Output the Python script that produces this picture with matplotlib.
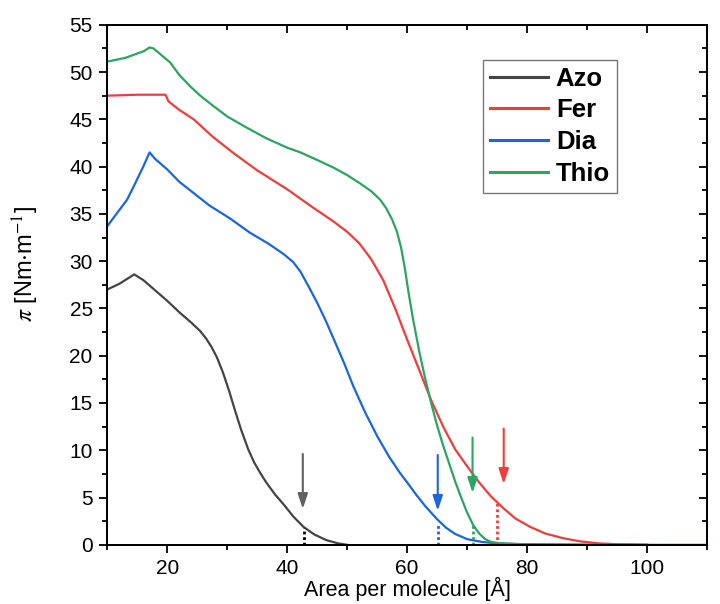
import matplotlib
matplotlib.use("Agg")
import matplotlib.pyplot as plt
from matplotlib.ticker import MultipleLocator

plt.rcParams['font.family'] = ['Liberation Sans', 'DejaVu Sans']
plt.rcParams['mathtext.fontset'] = 'stix'

# Isothermen (Fläche pro Molekül vs. Oberflächendruck)
azo_x = [10, 12, 14.5, 16, 18, 20, 22, 24, 25.5, 26.5, 27.4, 28.3, 29.3, 30.3, 31.3, 32.3, 33.5, 34.5,
         35.5, 36.5, 38, 39.5, 41, 42.7, 44.5, 46.5, 48.5, 50]
azo_y = [27.0, 27.6, 28.6, 28.0, 26.9, 25.8, 24.6, 23.5, 22.6, 21.8, 20.9, 19.8, 18.2, 16.3, 14.2,
         12.2, 10.1, 8.7, 7.6, 6.6, 5.3, 4.2, 3.0, 1.9, 1.1, 0.5, 0.15, 0.0]

fer_x = [10, 15, 19.7, 20.2, 22, 24.4, 27.5, 31, 35, 40, 44, 47.7, 50, 52, 54, 56, 58, 60, 62, 64,
         66, 68, 70, 72, 74, 76, 78, 80.5, 83, 86, 89, 92, 95, 100, 110]
fer_y = [47.5, 47.6, 47.6, 46.9, 46.0, 45.0, 43.2, 41.45, 39.6, 37.6, 35.8, 34.2, 33.1, 31.9, 30.2,
         28.0, 25.0, 21.7, 18.5, 15.3, 12.5, 10.1, 8.3, 6.6, 5.1, 3.9, 2.8, 1.9, 1.2, 0.7, 0.35, 0.15,
         0.06, 0.0, 0.0]

dia_x = [10, 12, 13.3, 14.4, 16, 17.05, 18, 20, 22, 24.4, 27, 30.5, 33.8, 37, 39.5, 41, 42.2, 43.5,
         45, 46.5, 48, 49.5, 51, 53, 55, 57, 58.8, 60, 61.5, 63, 65, 66.5, 68, 70, 72.5, 75, 80, 90, 100]
dia_y = [33.7, 35.4, 36.5, 37.9, 40.0, 41.5, 40.8, 39.7, 38.4, 37.2, 35.9, 34.5, 33.0, 31.8, 30.7,
         29.9, 28.9, 27.4, 25.6, 23.6, 21.4, 19.2, 16.8, 14.0, 11.5, 9.3, 7.6, 6.6, 5.3, 4.1, 2.7,
         1.8, 1.15, 0.6, 0.3, 0.15, 0.05, 0.01, 0.0]

thio_x = [10, 13, 16.05, 17.05, 17.7, 20.5, 22, 23.8, 25.5, 27.7, 30, 33.3, 36.5, 40, 42.2, 45,
          47.7, 50, 52.2, 54, 55.5, 56.5, 57.5, 58.3, 59, 59.6, 60.2, 61, 62, 63, 64, 65, 66, 67,
          68, 69, 70, 71, 72, 73, 74, 75.5, 80, 90, 100]
thio_y = [51.1, 51.5, 52.2, 52.6, 52.5, 51.0, 49.7, 48.5, 47.5, 46.4, 45.3, 44.1, 43.0, 42.0, 41.5,
          40.7, 39.9, 39.1, 38.2, 37.4, 36.5, 35.6, 34.4, 33.1, 31.4, 29.3, 26.8, 23.8, 20.5, 17.6,
          15.0, 12.6, 10.5, 8.6, 6.7, 5.0, 3.4, 2.1, 1.2, 0.6, 0.3, 0.15, 0.05, 0.0, 0.0]

labels = ['Azo', 'Fer', 'Dia', 'Thio']
colors = ['#444444', '#f23c3c', '#1a66dd', '#2ca462']
arrow_colors = ['#606060', '#f23c3c', '#1a66dd', '#2ca462']
dot_colors = ['#000000', '#f23c3c', '#1a66dd', '#2ca462']

# Pfeile und gepunktete Markierungen
arrow_x = [42.6, 76.1, 65.1, 70.9]
arrow_top = [9.6, 12.3, 9.5, 11.35]
arrow_tip = [3.8, 6.45, 3.6, 5.5]
mark_x = [42.8, 74.9, 65.1, 71.0]
mark_y = [1.8, 4.4, 2.3, 2.3]

fig = plt.figure(figsize=(7.2, 6.04), dpi=100)
ax = fig.add_axes([0.149, 0.098, 0.833, 0.861])

series = [(azo_x, azo_y), (fer_x, fer_y), (dia_x, dia_y), (thio_x, thio_y)]
for (xs, ys), lab, col in zip(series, labels, colors):
    ax.plot(xs, ys, color=col, linewidth=1.6, label=lab, solid_joinstyle='round')

for i in range(4):
    ax.plot([mark_x[i], mark_x[i]], [0, mark_y[i]], color=dot_colors[i],
            linestyle=(0, (1, 1)), linewidth=2)
    ax.annotate('', xy=(arrow_x[i], arrow_tip[i]), xytext=(arrow_x[i], arrow_top[i]),
                arrowprops=dict(arrowstyle='-|>,head_length=0.9,head_width=0.3',
                                color=arrow_colors[i], lw=1.5, shrinkA=0, shrinkB=0))

ax.set_xlim(10, 110)
ax.set_ylim(0, 55)
ax.xaxis.set_major_locator(MultipleLocator(20))
ax.xaxis.set_minor_locator(MultipleLocator(10))
ax.yaxis.set_major_locator(MultipleLocator(5))
ax.yaxis.set_minor_locator(MultipleLocator(2.5))
ax.tick_params(which='major', direction='out', length=6, width=1.3, labelsize=15, pad=4.5)
ax.tick_params(which='minor', direction='out', length=3.5, width=1.3)

for sp in ax.spines.values():
    sp.set_linewidth(1.4)

# Achsen oben/rechts mit Ticks nach innen
axr = ax.twinx()
axr.set_ylim(0, 55)
axr.yaxis.set_major_locator(MultipleLocator(5))
axr.yaxis.set_minor_locator(MultipleLocator(2.5))
axr.tick_params(which='major', direction='in', length=6, width=1.3, labelright=False)
axr.tick_params(which='minor', direction='in', length=3.5, width=1.3)
axt = ax.twiny()
axt.set_xlim(10, 110)
axt.xaxis.set_major_locator(MultipleLocator(20))
axt.xaxis.set_minor_locator(MultipleLocator(10))
axt.tick_params(which='major', direction='in', length=6, width=1.3, labeltop=False)
axt.tick_params(which='minor', direction='in', length=3.5, width=1.3)
for a in (axr, axt):
    for sp in a.spines.values():
        sp.set_linewidth(1.4)

ax.set_xlabel('Area per molecule [Å]', fontsize=15.5, labelpad=-1)
ax.set_ylabel(r'$\pi$ [Nm$\cdot$m$^{-1}$]', fontsize=17)
ax.yaxis.set_label_coords(-0.11, 0.54)

leg = ax.legend(loc='upper left', bbox_to_anchor=(0.627, 0.933), frameon=True, fancybox=False,
                prop={'weight': 'bold', 'size': 18.5}, handlelength=2.25, handletextpad=0.3,
                labelspacing=0.3, borderpad=0.27, borderaxespad=0)
leg.get_frame().set_edgecolor('#555555')
leg.get_frame().set_linewidth(1.0)
for line in leg.get_lines():
    line.set_linewidth(2.2)

fig.savefig('out.png', dpi=100)
